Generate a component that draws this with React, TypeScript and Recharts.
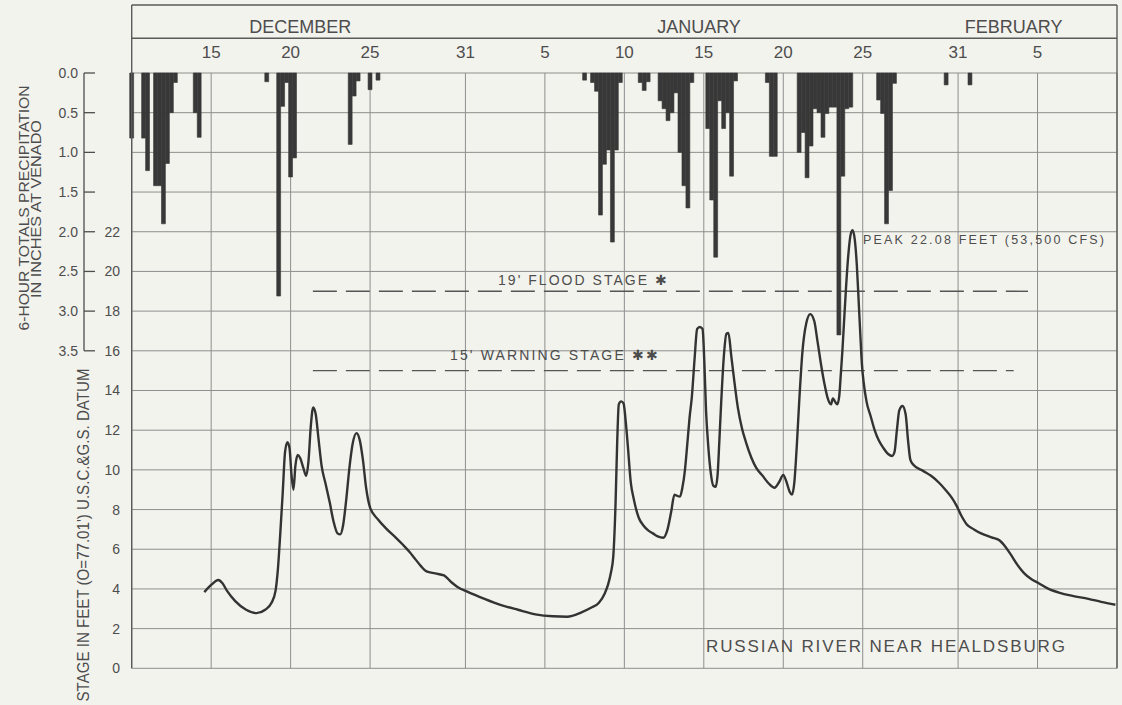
import {
  ComposedChart,
  Bar,
  Line,
  XAxis,
  YAxis,
  CartesianGrid,
  ReferenceLine,
} from "recharts";

// days are counted from Dec 1 (Dec 31 = 31, Jan 5 = 36, Feb 5 = 67)
const dayTicks = [15, 20, 25, 31, 36, 41, 46, 51, 56, 62, 67];
const dayLabels = ["15", "20", "25", "31", "5", "10", "15", "20", "25", "31", "5"];
const months = ["DECEMBER", "JANUARY", "FEBRUARY"];
const monthCentres = [20.6, 45.7, 65.5];

const precipTicks = [0, 0.5, 1, 1.5, 2, 2.5, 3, 3.5];
const stageTicks = [0, 2, 4, 6, 8, 10, 12, 14, 16, 18, 20, 22, 24, 26, 28, 30];
const floodStage = 19;
const warningStage = 15;

// 6-hour precipitation totals at Venado: [day, inches]
const precipReadings: [number, number][] = [
  [10.0, 0.82], [10.75, 0.82], [11.0, 1.23], [11.5, 1.42], [11.75, 1.42], [12.0, 1.9],
  [12.25, 1.14], [12.5, 0.5], [12.75, 0.12],
  [14.0, 0.5], [14.25, 0.81],
  [18.5, 0.11], [19.25, 2.81], [19.5, 0.42], [19.75, 0.12], [20.0, 1.31], [20.25, 1.07],
  [23.75, 0.9], [24.0, 0.29], [24.25, 0.1], [25.0, 0.21], [25.5, 0.09],
  [38.5, 0.09], [39.0, 0.12], [39.25, 0.23], [39.5, 1.79], [39.75, 1.15], [40.0, 0.97],
  [40.25, 2.13], [40.5, 0.97], [40.75, 0.12],
  [42.0, 0.12], [42.25, 0.22], [42.5, 0.11],
  [43.25, 0.35], [43.5, 0.45], [43.75, 0.6], [44.0, 0.5], [44.25, 0.25], [44.5, 1.0],
  [44.75, 1.42], [45.0, 1.7], [45.25, 0.12],
  [46.25, 0.7], [46.5, 1.6], [46.75, 2.32], [47.0, 0.35], [47.25, 0.7], [47.5, 0.5],
  [47.75, 1.3], [48.0, 0.1],
  [50.0, 0.12], [50.25, 1.05], [50.5, 1.05],
  [52.0, 1.0], [52.25, 0.75], [52.5, 1.32], [52.75, 0.92], [53.0, 0.45], [53.25, 0.5],
  [53.5, 0.81], [53.75, 0.51], [54.0, 0.43], [54.25, 0.43], [54.5, 3.3], [54.75, 1.3],
  [55.0, 0.45], [55.25, 0.43],
  [57.0, 0.34], [57.25, 0.51], [57.5, 1.9], [57.75, 1.48], [58.0, 0.13],
  [61.25, 0.15], [62.75, 0.15],
];

// Russian River stage near Healdsburg: [day, feet]
const stageReadings: [number, number][] = [
  [14.57, 3.84], [15.0, 4.2], [15.45, 4.45], [15.7, 4.3], [16.0, 3.9], [16.5, 3.4],
  [17.2, 2.95], [17.85, 2.78], [18.4, 2.95], [18.8, 3.3], [19.05, 3.9], [19.2, 5.0],
  [19.35, 6.8], [19.5, 8.8], [19.65, 10.9], [19.8, 11.4], [19.93, 11.1], [20.05, 9.8],
  [20.18, 9.0], [20.3, 10.2], [20.45, 10.75], [20.6, 10.6], [20.8, 10.1], [20.98, 9.7],
  [21.12, 10.4], [21.27, 12.2], [21.42, 13.15], [21.58, 12.8], [21.75, 11.6], [21.95, 10.2],
  [22.2, 9.3], [22.45, 8.4], [22.7, 7.4], [22.95, 6.8], [23.12, 6.75], [23.3, 7.2],
  [23.5, 8.5], [23.7, 10.1], [23.9, 11.3], [24.15, 11.85], [24.35, 11.5], [24.55, 10.5],
  [24.75, 9.1], [25.0, 8.1], [25.5, 7.5], [26.0, 7.05], [26.6, 6.6], [27.1, 6.2],
  [27.5, 5.85], [27.8, 5.55], [28.2, 5.15], [28.55, 4.88], [29.1, 4.78], [29.65, 4.68],
  [30.1, 4.35], [30.5, 4.1], [31.15, 3.85], [32.2, 3.5], [33.2, 3.2], [34.3, 2.95],
  [35.4, 2.72], [36.5, 2.62], [37.4, 2.6], [38.3, 2.82], [38.9, 3.05], [39.4, 3.3],
  [39.75, 3.75], [39.97, 4.2], [40.15, 4.8], [40.3, 5.6], [40.45, 8.4], [40.55, 11.4],
  [40.65, 13.3], [40.8, 13.45], [40.95, 13.35], [41.08, 12.5], [41.22, 11.2], [41.4, 9.4],
  [41.6, 8.5], [41.9, 7.6], [42.2, 7.2], [42.5, 6.95], [42.8, 6.8], [43.1, 6.65],
  [43.45, 6.58], [43.7, 6.95], [43.95, 7.9], [44.15, 8.75], [44.3, 8.7], [44.5, 8.65],
  [44.65, 9.1], [44.8, 9.9], [44.95, 11.2], [45.1, 12.6], [45.25, 13.7], [45.42, 15.6],
  [45.58, 17.1], [45.75, 17.2], [45.92, 17.1], [46.03, 15.5], [46.14, 13.0], [46.28, 11.2],
  [46.43, 9.9], [46.6, 9.2], [46.75, 9.15], [46.88, 9.9], [46.98, 11.5], [47.1, 13.5],
  [47.25, 15.6], [47.42, 16.85], [47.55, 16.9], [47.72, 15.8], [47.9, 14.6], [48.15, 13.1],
  [48.4, 12.1], [48.65, 11.4], [49.0, 10.6], [49.3, 10.1], [49.7, 9.7], [50.1, 9.3],
  [50.45, 9.1], [50.75, 9.4], [51.0, 9.75], [51.2, 9.4], [51.4, 8.9], [51.55, 8.75],
  [51.7, 9.4], [51.85, 11.2], [52.0, 13.4], [52.2, 15.9], [52.45, 17.4], [52.7, 17.85],
  [52.95, 17.5], [53.15, 16.5], [53.4, 15.2], [53.6, 14.3], [53.8, 13.6], [54.0, 13.3],
  [54.12, 13.6], [54.25, 13.45], [54.4, 13.3], [54.52, 13.7], [54.62, 14.8], [54.72, 16.0],
  [54.82, 17.4], [54.95, 19.2], [55.1, 20.9], [55.25, 21.9], [55.37, 22.08], [55.5, 21.6],
  [55.63, 20.3], [55.75, 18.4], [55.85, 16.8], [55.95, 15.3], [56.06, 14.4], [56.25, 13.4],
  [56.5, 12.7], [56.75, 12.0], [57.0, 11.5], [57.3, 11.1], [57.6, 10.8], [57.85, 10.7],
  [58.0, 10.9], [58.15, 12.0], [58.3, 13.0], [58.5, 13.22], [58.7, 12.8], [58.85, 11.5],
  [59.0, 10.5], [59.2, 10.25], [59.8, 9.95], [60.3, 9.7], [60.8, 9.35], [61.2, 9.0],
  [61.6, 8.6], [61.9, 8.2], [62.2, 7.7], [62.55, 7.25], [63.0, 7.0], [63.45, 6.8],
  [64.1, 6.6], [64.6, 6.45], [64.95, 6.15], [65.3, 5.75], [65.7, 5.25], [66.15, 4.8],
  [66.6, 4.5], [67.05, 4.3], [67.7, 4.0], [68.4, 3.8], [69.2, 3.65], [70.2, 3.5],
  [71.0, 3.35], [71.9, 3.2],
];

const precipData = precipReadings.map(([day, precip]) => ({ day, precip }));
const stageData = stageReadings.map(([day, stage]) => ({ day, stage }));

const W = 1122;
const H = 705;
const LEFT = 131.7;
const RIGHT = 1117;
const TOP = 73;
const BOTTOM = 668.3;
const DAY_MIN = 10;
const DAY_MAX = 72;
const PRECIP_MAX = 7.5;
const pxPerDay = (RIGHT - LEFT) / (DAY_MAX - DAY_MIN);
const dayX = (d: number) => LEFT + (d - DAY_MIN) * pxPerDay;
const precipY = (v: number) => TOP + (v / PRECIP_MAX) * (BOTTOM - TOP);

const BG = "#f3f3ed";
const INK = "#4d4d4d";
const DARK = "#383838";
const GRID = "#8e8e8e";
const FONT = "'Liberation Sans', Arial, sans-serif";

const DayTick = ({ x, payload }: any) => (
  <text x={x} y={58} textAnchor="middle" fontSize={17} fill={INK} fontFamily={FONT}>
    {dayLabels[dayTicks.indexOf(payload.value)]}
  </text>
);

const PrecipTick = ({ y, payload }: any) => (
  <g>
    <line x1={84} x2={95} y1={y} y2={y} stroke={INK} strokeWidth={1.3} />
    <text x={78} y={y + 5} textAnchor="end" fontSize={14} fill={INK} fontFamily={FONT}>
      {payload.value.toFixed(1)}
    </text>
  </g>
);

const StageTick = ({ y, payload }: any) =>
  payload.value > 22 ? (
    <g />
  ) : (
    <text x={120} y={y + 5} textAnchor="end" fontSize={14} fill={INK} fontFamily={FONT}>
      {payload.value}
    </text>
  );

export default function App() {
  return (
    <div style={{ position: "absolute", left: 0, top: 0, width: W, height: H, background: BG }}>
      <ComposedChart
        width={W}
        height={H}
        data={precipData}
        margin={{ top: 5, right: W - RIGHT - 1, bottom: H - BOTTOM, left: 0 }}
        barGap={0}
        barCategoryGap={0}
      >
        <XAxis
          xAxisId="day"
          dataKey="day"
          type="number"
          domain={[DAY_MIN, DAY_MAX]}
          ticks={dayTicks}
          orientation="top"
          height={TOP - 5}
          tick={DayTick}
          axisLine={false}
          tickLine={false}
        />
        <XAxis xAxisId="line" dataKey="day" type="number" domain={[DAY_MIN, DAY_MAX]} hide />
        <YAxis
          yAxisId="p"
          type="number"
          domain={[0, PRECIP_MAX]}
          reversed
          ticks={precipTicks}
          width={LEFT}
          tick={PrecipTick}
          axisLine={false}
          tickLine={false}
        />
        <YAxis
          yAxisId="s"
          type="number"
          domain={[0, 30]}
          ticks={stageTicks}
          orientation="right"
          width={1}
          tick={StageTick}
          axisLine={false}
          tickLine={false}
        />
        <CartesianGrid xAxisId="day" yAxisId="s" stroke={GRID} strokeWidth={1} />
        <ReferenceLine
          xAxisId="day"
          yAxisId="s"
          segment={[{ x: 21.4, y: floodStage }, { x: 66.4, y: floodStage }]}
          stroke="#555"
          strokeWidth={1.4}
          strokeDasharray="24 9"
        />
        <ReferenceLine
          xAxisId="day"
          yAxisId="s"
          segment={[{ x: 21.4, y: warningStage }, { x: 65.5, y: warningStage }]}
          stroke="#555"
          strokeWidth={1.4}
          strokeDasharray="24 9"
        />
        <Bar
          xAxisId="day"
          yAxisId="p"
          dataKey="precip"
          barSize={3.9}
          fill={DARK}
          stroke={DARK}
          strokeWidth={0.6}
          isAnimationActive={false}
        />
        <Line
          xAxisId="line"
          yAxisId="s"
          data={stageData}
          dataKey="stage"
          type="monotone"
          stroke="#333"
          strokeWidth={2.4}
          dot={false}
          activeDot={false}
          isAnimationActive={false}
        />
      </ComposedChart>

      <svg
        width={W}
        height={H}
        style={{ position: "absolute", left: 0, top: 0, pointerEvents: "none" }}
        fontFamily={FONT}
        fill={INK}
      >
        <g stroke="#5a5a5a" strokeWidth={1.4}>
          <line x1={LEFT} x2={RIGHT} y1={5} y2={5} />
          <line x1={LEFT} x2={RIGHT} y1={38.3} y2={38.3} />
          <line x1={LEFT} x2={LEFT} y1={5} y2={BOTTOM} />
          <line x1={RIGHT} x2={RIGHT} y1={5} y2={BOTTOM} />
        </g>
        <line x1={84} x2={84} y1={precipY(0)} y2={precipY(3.5)} stroke={INK} strokeWidth={1.3} />
        {months.map((m, i) => (
          <text key={m} x={dayX(monthCentres[i])} y={33} textAnchor="middle" fontSize={18}>
            {m}
          </text>
        ))}

        <text
          transform="translate(29,208) rotate(-90)"
          textAnchor="middle"
          fontSize={15}
          textLength={245}
          lengthAdjust="spacingAndGlyphs"
        >
          6-HOUR TOTALS PRECIPITATION
        </text>
        <text
          transform="translate(41,209) rotate(-90)"
          textAnchor="middle"
          fontSize={15}
          textLength={178}
          lengthAdjust="spacingAndGlyphs"
        >
          IN INCHES AT VENADO
        </text>
        <text
          transform="translate(89,535) rotate(-90)"
          textAnchor="middle"
          fontSize={16}
          textLength={333}
          lengthAdjust="spacingAndGlyphs"
        >
          STAGE IN FEET (O=77.01') U.S.C.&amp;G.S. DATUM
        </text>

        <text x={863} y={243.5} fontSize={12.5} textLength={241}>
          PEAK 22.08 FEET (53,500 CFS)
        </text>
        <text x={498} y={285} fontSize={14} textLength={169}>
          19' FLOOD STAGE ✱
        </text>
        <text x={450} y={360} fontSize={14} textLength={208}>
          15' WARNING STAGE ✱✱
        </text>
        <text x={706} y={651.5} fontSize={17} textLength={359}>
          RUSSIAN RIVER NEAR HEALDSBURG
        </text>
      </svg>
    </div>
  );
}
